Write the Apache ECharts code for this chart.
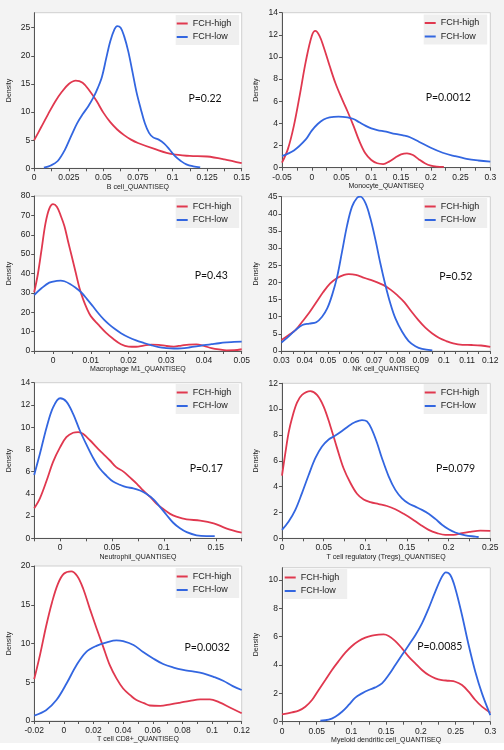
<!DOCTYPE html>
<html><head><meta charset="utf-8">
<script src="https://cdn.jsdelivr.net/npm/echarts@6/dist/echarts.min.js"></script>
<style>html,body{margin:0;padding:0;background:#f3f3f3}#c{width:504px;height:750px}</style>
</head><body><div id="c"></div><script>
// ---------- data ----------
const seriesNames = ['FCH-high', 'FCH-low'];
const xTitles = ['B cell_QUANTISEQ', 'Monocyte_QUANTISEQ', 'Macrophage M1_QUANTISEQ', 'NK cell_QUANTISEQ',
  'Neutrophil_QUANTISEQ', 'T cell regulatory (Tregs)_QUANTISEQ', 'T cell CD8+_QUANTISEQ', 'Myeloid dendritic cell_QUANTISEQ'];
const pValues = ['P=0.22', 'P=0.0012', 'P=0.43', 'P=0.52', 'P=0.17', 'P=0.079', 'P=0.0032', 'P=0.0085'];

const xTicks1 = [0, 0.025, 0.05, 0.075, 0.1, 0.125, 0.15];
const yTicks1 = [0, 5, 10, 15, 20, 25];
const xTicks2 = [-0.05, 0, 0.05, 0.1, 0.15, 0.2, 0.25, 0.3];
const yTicks2 = [0, 2, 4, 6, 8, 10, 12, 14];
const xTicks3 = [0, 0.01, 0.02, 0.03, 0.04, 0.05];
const yTicks3 = [0, 10, 20, 30, 40, 50, 60, 70, 80];
const xTicks4 = [0.03, 0.04, 0.05, 0.06, 0.07, 0.08, 0.09, 0.1, 0.11, 0.12];
const yTicks4 = [0, 5, 10, 15, 20, 25, 30, 35, 40, 45];
const xTicks5 = [0, 0.05, 0.1, 0.15];
const yTicks5 = [0, 2, 4, 6, 8, 10, 12, 14];
const xTicks6 = [0, 0.05, 0.1, 0.15, 0.2, 0.25];
const yTicks6 = [0, 2, 4, 6, 8, 10, 12];
const xTicks7 = [-0.02, 0, 0.02, 0.04, 0.06, 0.08, 0.1, 0.12];
const yTicks7 = [0, 5, 10, 15, 20];
const xTicks8 = [0, 0.05, 0.1, 0.15, 0.2, 0.25, 0.3];
const yTicks8 = [0, 2, 4, 6, 8, 10];

const bcellHigh = [[0,5.0],[0.005,7.3],[0.01,9.6],[0.015,11.8],[0.02,13.6],[0.025,15.0],[0.03,15.6],[0.035,15.2],[0.04,13.8],[0.045,12.0],[0.05,9.9],[0.055,8.2],[0.06,6.9],[0.065,5.9],[0.07,5.1],[0.075,4.5],[0.0875,3.4],[0.1,2.5],[0.1125,2.2],[0.125,2.1],[0.1375,1.6],[0.15,0.9]];
const bcellLow = [[0.007,0.1],[0.012,0.5],[0.017,1.3],[0.022,3.2],[0.027,5.9],[0.031,8.0],[0.035,9.6],[0.039,11.0],[0.043,12.7],[0.046,14.3],[0.049,16.3],[0.052,19.5],[0.055,22.6],[0.058,24.7],[0.06,25.3],[0.0625,25.0],[0.065,23.5],[0.068,20.8],[0.071,17.2],[0.074,13.5],[0.077,10.6],[0.08,8.0],[0.083,6.3],[0.086,5.5],[0.09,5.1],[0.094,4.4],[0.098,3.3],[0.102,2.1],[0.106,1.3],[0.11,0.7],[0.115,0.35],[0.12,0.15]];

const monoHigh = [[-0.05,0.45],[-0.04,1.7],[-0.03,3.8],[-0.02,6.6],[-0.01,9.6],[0,11.9],[0.006,12.35],[0.013,11.9],[0.02,10.9],[0.03,9.2],[0.04,7.6],[0.05,6.3],[0.06,5.1],[0.07,3.8],[0.08,2.4],[0.09,1.3],[0.1,0.7],[0.11,0.4],[0.12,0.33],[0.13,0.55],[0.14,0.9],[0.15,1.2],[0.16,1.3],[0.17,1.15],[0.18,0.75],[0.19,0.4],[0.2,0.18],[0.21,0.1],[0.222,0.08]];
const monoLow = [[-0.05,1.05],[-0.03,1.55],[-0.01,2.55],[0,3.35],[0.01,3.95],[0.02,4.35],[0.03,4.55],[0.045,4.62],[0.06,4.55],[0.07,4.4],[0.08,4.1],[0.09,3.8],[0.1,3.55],[0.11,3.4],[0.125,3.25],[0.14,3.05],[0.155,2.9],[0.165,2.75],[0.18,2.35],[0.2,1.8],[0.22,1.35],[0.24,1.05],[0.26,0.8],[0.28,0.65],[0.3,0.55]];

const macroHigh = [[-0.005,30.3],[-0.004,40],[-0.003,53],[-0.002,66],[-0.001,73.5],[0,75.8],[0.001,74.5],[0.002,70],[0.003,64.5],[0.004,56.4],[0.005,48.5],[0.006,40.5],[0.007,32.5],[0.008,26.5],[0.009,21.8],[0.01,18],[0.012,13.6],[0.014,9.5],[0.016,6.2],[0.018,3.5],[0.02,2.3],[0.022,2.2],[0.024,2.8],[0.026,3.3],[0.028,3.2],[0.03,2.6],[0.032,2.3],[0.034,2.8],[0.036,3.3],[0.038,3.4],[0.04,2.6],[0.042,1.5],[0.044,0.8],[0.046,0.35],[0.048,0.4],[0.05,0.9]];
const macroLow = [[-0.005,28.9],[-0.003,32.5],[-0.001,35.3],[0.001,36.2],[0.002,36.3],[0.003,36.0],[0.0045,34.6],[0.006,32.6],[0.0075,30.2],[0.009,26.8],[0.0105,23.2],[0.012,19.5],[0.0135,16.2],[0.015,13.5],[0.0165,11.2],[0.018,9.2],[0.02,7.1],[0.022,5.5],[0.024,4.2],[0.026,3.0],[0.028,2.0],[0.03,1.5],[0.032,1.3],[0.034,1.4],[0.036,1.8],[0.038,2.35],[0.04,3.0],[0.042,3.5],[0.044,4.0],[0.046,4.4],[0.048,4.7],[0.05,4.8]];

const nkHigh = [[0.03,3.2],[0.033,4.6],[0.036,6.1],[0.039,8.6],[0.042,11.2],[0.045,14.2],[0.048,17.2],[0.051,19.7],[0.054,21.3],[0.057,22.2],[0.059,22.4],[0.062,22.2],[0.065,21.5],[0.068,20.8],[0.071,20.1],[0.074,19.2],[0.077,17.9],[0.08,16.2],[0.083,14.2],[0.086,11.5],[0.089,9.0],[0.092,6.8],[0.095,5.1],[0.098,3.8],[0.101,2.9],[0.104,2.2],[0.108,1.8],[0.112,1.75],[0.116,1.6],[0.12,1.2]];
const nkLow = [[0.03,2.5],[0.033,4.2],[0.036,6.1],[0.039,7.6],[0.042,8.0],[0.045,8.4],[0.0475,10],[0.0497,12.4],[0.0518,16.3],[0.054,21.7],[0.0561,29],[0.0583,36.7],[0.0604,42.1],[0.0626,44.7],[0.064,45],[0.0662,43.1],[0.0683,38.7],[0.0705,32.4],[0.0726,25.6],[0.0748,19.2],[0.0769,13.9],[0.0791,9.5],[0.082,5.6],[0.0848,2.9],[0.0877,1.4],[0.0906,0.6],[0.095,0.2]];

const neutHigh = [[-0.025,2.7],[-0.0195,3.6],[-0.013,5.2],[-0.0067,6.9],[0,8.2],[0.006,9.1],[0.0125,9.5],[0.0175,9.56],[0.022,9.4],[0.029,8.8],[0.035,8.2],[0.0415,7.6],[0.048,7.0],[0.054,6.4],[0.061,6.0],[0.067,5.5],[0.074,4.9],[0.08,4.3],[0.087,3.7],[0.093,3.1],[0.1,2.6],[0.106,2.2],[0.112,1.95],[0.122,1.7],[0.135,1.6],[0.148,1.35],[0.16,0.9],[0.175,0.5]];
const neutLow = [[-0.025,5.7],[-0.0195,7.6],[-0.013,10.0],[-0.0067,11.8],[0,12.6],[0.006,12.3],[0.0125,11.2],[0.019,9.7],[0.0255,8.4],[0.032,7.2],[0.038,6.3],[0.045,5.6],[0.051,5.1],[0.058,4.8],[0.064,4.6],[0.0705,4.5],[0.077,4.3],[0.083,4.0],[0.09,3.5],[0.096,2.85],[0.1026,2.1],[0.109,1.4],[0.1155,0.9],[0.122,0.55],[0.1315,0.27],[0.141,0.2],[0.149,0.2]];

const tregHigh = [[0,4.85],[0.004,6.6],[0.008,8.2],[0.012,9.3],[0.018,10.5],[0.024,11.1],[0.034,11.4],[0.042,11.1],[0.05,10.2],[0.058,8.7],[0.066,7.0],[0.074,5.4],[0.082,4.3],[0.09,3.45],[0.098,3.0],[0.106,2.8],[0.116,2.65],[0.126,2.5],[0.136,2.25],[0.146,1.9],[0.156,1.5],[0.166,1.05],[0.176,0.65],[0.186,0.4],[0.196,0.26],[0.206,0.26],[0.216,0.4],[0.226,0.5],[0.238,0.6],[0.25,0.57]];
const tregLow = [[0,0.65],[0.008,1.3],[0.016,2.2],[0.024,3.5],[0.032,4.9],[0.04,6.2],[0.048,7.1],[0.056,7.65],[0.064,7.95],[0.072,8.3],[0.08,8.7],[0.088,9.0],[0.096,9.15],[0.102,9.05],[0.108,8.4],[0.114,7.4],[0.12,6.2],[0.128,4.8],[0.136,3.75],[0.144,3.1],[0.152,2.7],[0.16,2.45],[0.168,2.2],[0.176,1.9],[0.184,1.5],[0.192,1.05],[0.2,0.7],[0.208,0.45],[0.22,0.23],[0.232,0.13],[0.236,0.1]];

const cd8High = [[-0.02,5.4],[-0.016,8.6],[-0.012,12.2],[-0.008,15.3],[-0.004,17.7],[0,19.0],[0.005,19.3],[0.009,18.7],[0.013,17.1],[0.0175,14.5],[0.022,12.0],[0.0265,9.6],[0.031,7.2],[0.0355,5.5],[0.04,4.2],[0.045,3.3],[0.049,2.7],[0.054,2.3],[0.058,2.0],[0.065,1.95],[0.072,2.15],[0.078,2.35],[0.085,2.6],[0.092,2.8],[0.0985,2.8],[0.105,2.4],[0.112,1.75],[0.12,1.0]];
const cd8Low = [[-0.02,0.7],[-0.012,1.4],[-0.005,2.7],[0.002,4.9],[0.0085,7.2],[0.015,8.9],[0.022,9.7],[0.029,10.15],[0.0355,10.4],[0.04,10.3],[0.047,9.8],[0.0535,8.9],[0.06,8.1],[0.067,7.35],[0.074,6.9],[0.0805,6.6],[0.087,6.4],[0.094,6.15],[0.101,5.7],[0.1075,5.2],[0.114,4.5],[0.12,4.0]];

const mdcHigh = [[0,0.52],[0.0144,0.66],[0.024,0.78],[0.0336,1.06],[0.0432,1.53],[0.0528,2.24],[0.0624,2.94],[0.072,3.65],[0.0816,4.28],[0.0912,4.87],[0.1008,5.34],[0.1104,5.69],[0.12,5.93],[0.1296,6.07],[0.1392,6.14],[0.1464,6.16],[0.1536,6.05],[0.1632,5.69],[0.1728,5.18],[0.1824,4.59],[0.192,4.12],[0.2016,3.65],[0.2112,3.29],[0.2208,3.06],[0.2304,2.94],[0.24,2.89],[0.2496,2.82],[0.2592,2.59],[0.2688,2.12],[0.2784,1.53],[0.288,1.06],[0.3,0.64]];
const mdcLow = [[0.0552,0.07],[0.0672,0.14],[0.0768,0.35],[0.0864,0.7],[0.096,1.18],[0.1056,1.7],[0.1152,2.0],[0.1248,2.24],[0.1344,2.42],[0.144,2.7],[0.1536,3.29],[0.1632,4.0],[0.1728,4.7],[0.1824,5.4],[0.192,6.1],[0.2016,6.94],[0.2112,8.0],[0.2208,9.18],[0.2304,10.24],[0.236,10.54],[0.2424,10.35],[0.2496,9.41],[0.2592,7.53],[0.2688,5.41],[0.2784,3.53],[0.288,2.0],[0.3,0.47]];

// ---------- layout / axis extents ----------
const panels = [
  {hi: bcellHigh, lo: bcellLow, xt: xTicks1, yt: yTicks1, xmin: 0, xmax: 0.15, ymax: 27.67, left: 34.2, top: 12.7, w: 207.5, h: 155.6, lgL: 175.7, lgT: 15, pX: 205, pY: 98.3},
  {hi: monoHigh, lo: monoLow, xt: xTicks2, yt: yTicks2, xmin: -0.05, xmax: 0.3, ymax: 14, left: 282, top: 12.7, w: 208.3, h: 155, lgL: 423.7, lgT: 14.5, pX: 448.3, pY: 97.7},
  {hi: macroHigh, lo: macroLow, xt: xTicks3, yt: yTicks3, xmin: -0.005, xmax: 0.05, ymax: 80, left: 34.2, top: 196, w: 207.5, h: 155, lgL: 175.7, lgT: 198, pX: 211.3, pY: 275.7},
  {hi: nkHigh, lo: nkLow, xt: xTicks4, yt: yTicks4, xmin: 0.03, xmax: 0.12, ymax: 45, left: 281.5, top: 196.7, w: 208.8, h: 154.3, lgL: 423.7, lgT: 198, pX: 455.8, pY: 276.7},
  {hi: neutHigh, lo: neutLow, xt: xTicks5, yt: yTicks5, xmin: -0.025, xmax: 0.175, ymax: 14, left: 34.2, top: 382.7, w: 207.5, h: 155.6, lgL: 175.7, lgT: 384, pX: 206.3, pY: 468.3},
  {hi: tregHigh, lo: tregLow, xt: xTicks6, yt: yTicks6, xmin: 0, xmax: 0.25, ymax: 12, left: 282, top: 383.3, w: 208.3, h: 155, lgL: 423.7, lgT: 384, pX: 455.5, pY: 468.3},
  {hi: cd8High, lo: cd8Low, xt: xTicks7, yt: yTicks7, xmin: -0.02, xmax: 0.12, ymax: 20, left: 34.2, top: 566, w: 207.5, h: 155, lgL: 175.7, lgT: 568, pX: 207.2, pY: 647.7},
  {hi: mdcHigh, lo: mdcLow, xt: xTicks8, yt: yTicks8, xmin: 0, xmax: 0.3, ymax: 10.87, left: 282, top: 567.7, w: 208.3, h: 154, lgL: 283.7, lgT: 569, pX: 439.8, pY: 646.7}
];

const RED = '#e0384f', BLUE = '#3366e0';
const AX = '"Liberation Sans", Arial, sans-serif';

function withMinor(t, mn, mx) {
  const out = t.slice();
  const step = t[1] - t[0];
  for (let i = 0; i < t.length - 1; i++) out.push((t[i] + t[i + 1]) / 2);
  if (t[0] - step / 2 >= mn - 1e-9) out.push(t[0] - step / 2);
  if (t[t.length - 1] + step / 2 <= mx + 1e-9) out.push(t[t.length - 1] + step / 2);
  return out;
}

const grid = [], xAxis = [], yAxis = [], series = [], legend = [], graphic = [];
graphic.push({type: 'rect', shape: {x: 0, y: 743, width: 504, height: 7}, style: {fill: '#ffffff'}, silent: true});

panels.forEach((p, i) => {
  grid.push({left: p.left, top: p.top, width: p.w, height: p.h, show: true, backgroundColor: '#ffffff', borderColor: '#cfcfcf', borderWidth: 1});
  xAxis.push({
    type: 'value', gridIndex: i, min: p.xmin, max: p.xmax,
    name: xTitles[i], nameLocation: 'middle', nameGap: 13,
    nameTextStyle: {fontSize: 7, fontFamily: AX, color: '#222'},
    axisLine: {show: true, onZero: false, lineStyle: {color: '#555', width: 1}},
    axisTick: {show: true, length: 3, customValues: withMinor(p.xt, p.xmin, p.xmax), lineStyle: {color: '#555'}},
    axisLabel: {customValues: p.xt, formatter: v => String(v), fontSize: 8.5, fontFamily: AX, color: '#222', margin: 5, hideOverlap: false},
    splitLine: {show: false}
  });
  yAxis.push({
    type: 'value', gridIndex: i, min: 0, max: p.ymax,
    name: 'Density', nameLocation: 'middle', nameGap: 22,
    nameTextStyle: {fontSize: 7, fontFamily: AX, color: '#222'},
    axisLine: {show: true, onZero: false, lineStyle: {color: '#555', width: 1}},
    axisTick: {show: true, length: 3, customValues: p.yt, lineStyle: {color: '#555'}},
    axisLabel: {customValues: p.yt, fontSize: 8.5, fontFamily: AX, color: '#222', margin: 4},
    splitLine: {show: false}
  });
  [[p.hi, RED, 0], [p.lo, BLUE, 1]].forEach(([d, c, k]) => {
    series.push({
      type: 'line', name: seriesNames[k], xAxisIndex: i, yAxisIndex: i, data: d,
      smooth: 0.35, showSymbol: false, symbol: 'none', clip: true,
      lineStyle: {color: c, width: 1.8}, itemStyle: {color: c}, emphasis: {disabled: true}
    });
  });
  legend.push({
    data: seriesNames, orient: 'vertical', left: p.lgL, top: p.lgT,
    backgroundColor: '#efefef', padding: [3.5, 8, 3, 1], itemWidth: 11, itemHeight: 2, itemGap: 3.5,
    icon: 'rect', selectedMode: false,
    textStyle: {fontSize: 9, fontFamily: AX, color: '#222', lineHeight: 10}
  });
  graphic.push({type: 'text', x: p.pX, y: p.pY, silent: true,
    style: {text: pValues[i], font: '10.5px Lato', fill: '#111', align: 'center', verticalAlign: 'middle'}});
});

const chart = echarts.init(document.getElementById('c'), null, {renderer: 'canvas'});
chart.setOption({animation: false, backgroundColor: '#f3f3f3', grid, xAxis, yAxis, series, legend, graphic});
</script></body></html>
